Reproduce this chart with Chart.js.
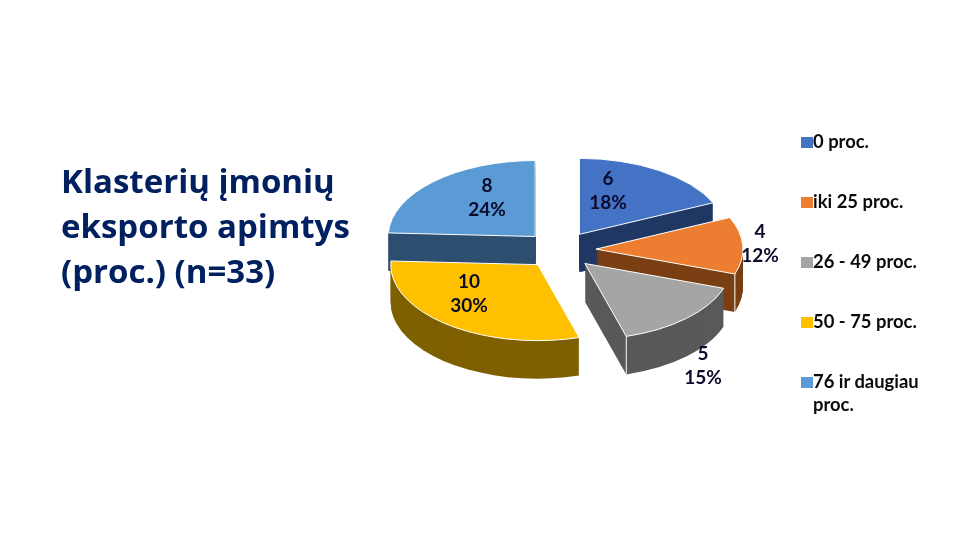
<!DOCTYPE html>
<html lang="lt">
<head>
<meta charset="utf-8">
<title>Klasterių įmonių eksporto apimtys</title>
<script src="https://cdn.jsdelivr.net/npm/chart.js@4/dist/chart.umd.min.js"></script>
<style>
    html, body { margin: 0; padding: 0; background: #fff; }
    #wrap { position: relative; width: 960px; height: 540px; overflow: hidden; }
    #pie { position: absolute; left: 0; top: 0; }
    #title {
        position: absolute; left: 61px; top: 158px;
        font: 700 33px/45px "Open Sans", sans-serif; color: #002060; white-space: nowrap;
    }
    #legend { position: absolute; left: 801px; top: 130px; width: 132px; font: 700 18.4px/23px Lato, sans-serif; color: #0a0a0a; }
    #legend div { position: relative; height: 60px; padding-left: 12px; box-sizing: border-box; }
    #legend i { position: absolute; left: 0; top: 7px; width: 12px; height: 11px; }
</style>
</head>
<body>
<div id="wrap">
    <canvas id="pie" width="960" height="540"></canvas>
    <div id="title">Klasterių įmonių<br>eksporto apimtys<br>(proc.) (n=33)</div>
    <div id="legend"></div>
</div>
<script>
const categories = ['0 proc.', 'iki 25 proc.', '26 - 49 proc.', '50 - 75 proc.', '76 ir daugiau proc.'];
const counts = [6, 4, 5, 10, 8];
const topColors = ['#4472C4', '#ED7D31', '#A5A5A5', '#FFC000', '#5B9BD5'];
const wallColors = ['#203864', '#7B3F14', '#595959', '#7F6000', '#2E4F70'];

// 3D look: squash the pie and extrude each slice downwards
const squash = 0.517;
const depth = 38;
const drawOrder = [4, 0, 1, 3, 2]; // back to front
const labelCenters = [[608, 191], [760, 244], [703, 366], [469, 294], [487, 198]];

const total = counts.reduce((sum, val) => sum + val, 0);

function slicePath(ctx, arc, shift) {
    const mid = (arc.startAngle + arc.endAngle) / 2;
    const off = arc.options.offset;
    ctx.save();
    ctx.translate(arc.x, arc.y + shift);
    ctx.scale(1, squash);
    ctx.translate(Math.cos(mid) * off, Math.sin(mid) * off);
    ctx.beginPath();
    ctx.moveTo(0, 0);
    ctx.arc(0, 0, arc.outerRadius, arc.startAngle, arc.endAngle);
    ctx.closePath();
    ctx.restore();
}

const pie3d = {
    id: 'pie3d',
    beforeDatasetsDraw(chart) {
        const ctx = chart.ctx;
        const arcs = chart.getDatasetMeta(0).data;
        drawOrder.forEach(i => {
            const arc = arcs[i];
            ctx.fillStyle = wallColors[i];
            for (let d = depth; d > 0; d--) {
                slicePath(ctx, arc, d);
                ctx.fill();
            }
            // light edge on the front corner of the wall
            if (Math.sin(arc.endAngle) > 0) {
                const mid = (arc.startAngle + arc.endAngle) / 2;
                const off = arc.options.offset;
                const cx = arc.x + Math.cos(mid) * off + Math.cos(arc.endAngle) * arc.outerRadius;
                const cy = arc.y + (Math.sin(mid) * off + Math.sin(arc.endAngle) * arc.outerRadius) * squash;
                ctx.strokeStyle = '#fff';
                ctx.lineWidth = 1;
                ctx.beginPath();
                ctx.moveTo(cx, cy);
                ctx.lineTo(cx, cy + depth);
                ctx.stroke();
            }
            slicePath(ctx, arc, 0);
            ctx.fillStyle = topColors[i];
            ctx.fill();
            ctx.strokeStyle = '#fff';
            ctx.lineWidth = 1;
            ctx.stroke();
        });
        return false;
    },
    // returning false above also skips afterDatasetsDraw, so labels go here
    afterDraw(chart) {
        const ctx = chart.ctx;
        ctx.save();
        ctx.font = '700 19px Lato, sans-serif';
        ctx.fillStyle = '#0B0B2B';
        ctx.textAlign = 'center';
        ctx.textBaseline = 'middle';
        counts.forEach((val, i) => {
            const [x, y] = labelCenters[i];
            ctx.fillText(String(val), x, y - 12);
            ctx.fillText(Math.round(val / total * 100) + '%', x, y + 12);
        });
        ctx.restore();
    }
};

new Chart(document.getElementById('pie').getContext('2d'), {
    type: 'pie',
    data: {
        labels: categories,
        datasets: [{
            data: counts,
            backgroundColor: topColors,
            borderWidth: 0,
            offset: 36,
            radius: 147
        }]
    },
    options: {
        responsive: false,
        animation: false,
        events: [],
        layout: { padding: { left: 160, bottom: 40 } },
        plugins: {
            legend: { display: false },
            tooltip: { enabled: false }
        }
    },
    plugins: [pie3d]
});

const legendBox = document.getElementById('legend');
categories.forEach((name, i) => {
    const row = document.createElement('div');
    const swatch = document.createElement('i');
    swatch.style.background = topColors[i];
    row.appendChild(swatch);
    row.appendChild(document.createTextNode(name));
    legendBox.appendChild(row);
});
</script>
</body>
</html>
